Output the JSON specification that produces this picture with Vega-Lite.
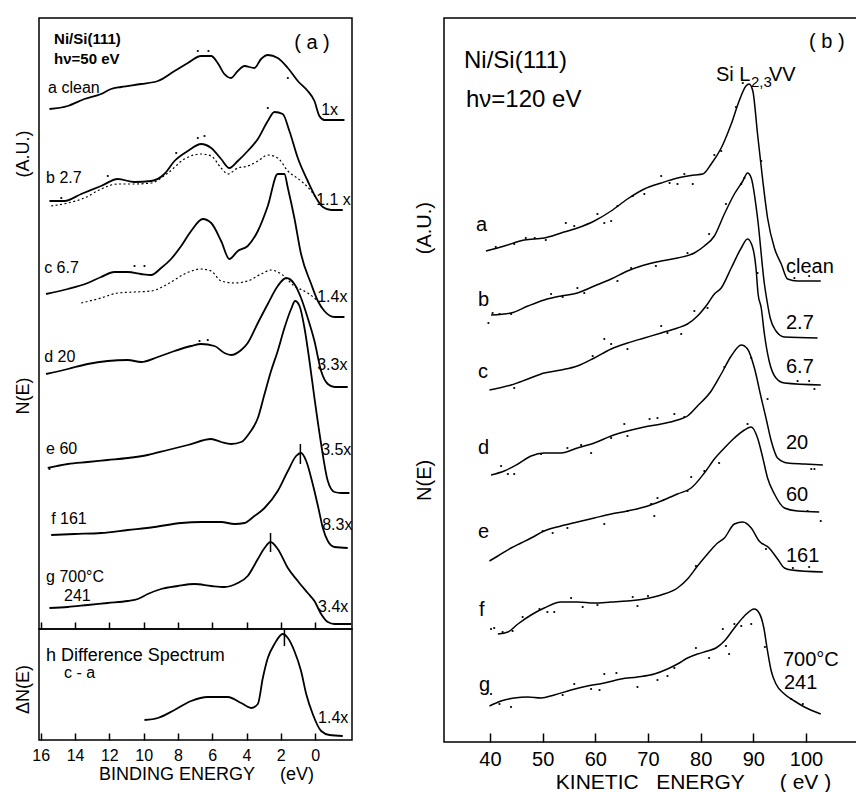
{
  "$schema": "https://vega.github.io/schema/vega-lite/v6.json",
  "background": "white",
  "padding": {"left": 13, "top": 17, "right": 0, "bottom": 0},
  "bounds": "flush",
  "spacing": 405,
  "config": {
    "view": {"stroke": "black", "strokeWidth": 1.5},
    "font": "Liberation Sans",
    "axis": {"grid": false, "domain": false, "labelColor": "black", "titleColor": "black", "tickColor": "black", "labelFont": "Liberation Sans", "titleFont": "Liberation Sans", "titleFontWeight": "normal"}
  },
  "datasets": {
    "A": [
      {"c":"a","x":15.49,"y":520},{"c":"a","x":14.42,"y":523},{"c":"a","x":13.45,"y":530},{"c":"a","x":12.48,"y":535},{"c":"a","x":11.9,"y":540},{"c":"a","x":11.31,"y":542},{"c":"a","x":10.15,"y":545},{"c":"a","x":9.17,"y":548},{"c":"a","x":8.2,"y":558},{"c":"a","x":7.42,"y":566},{"c":"a","x":6.65,"y":573},{"c":"a","x":6.06,"y":573},{"c":"a","x":5.68,"y":566},{"c":"a","x":5.29,"y":555},{"c":"a","x":4.9,"y":551},{"c":"a","x":4.51,"y":558},{"c":"a","x":4.12,"y":563},{"c":"a","x":3.54,"y":561},{"c":"a","x":3.15,"y":570},{"c":"a","x":2.76,"y":574},{"c":"a","x":2.18,"y":571},{"c":"a","x":1.59,"y":561},{"c":"a","x":1.01,"y":548},{"c":"a","x":0.43,"y":538},{"c":"a","x":0.04,"y":528},{"c":"a","x":-0.25,"y":513},{"c":"a","x":-0.54,"y":509},{"c":"a","x":-1.71,"y":509},
      {"c":"b","x":15.49,"y":428},{"c":"b","x":14.62,"y":428},{"c":"b","x":13.64,"y":435},{"c":"b","x":12.48,"y":443},{"c":"b","x":11.51,"y":450},{"c":"b","x":10.53,"y":447},{"c":"b","x":9.56,"y":448},{"c":"b","x":8.79,"y":455},{"c":"b","x":8.2,"y":468},{"c":"b","x":7.42,"y":478},{"c":"b","x":6.65,"y":485},{"c":"b","x":6.06,"y":481},{"c":"b","x":5.48,"y":470},{"c":"b","x":5.0,"y":461},{"c":"b","x":4.51,"y":468},{"c":"b","x":3.93,"y":478},{"c":"b","x":3.34,"y":490},{"c":"b","x":2.76,"y":508},{"c":"b","x":2.37,"y":517},{"c":"b","x":1.89,"y":515},{"c":"b","x":1.5,"y":498},{"c":"b","x":1.01,"y":471},{"c":"b","x":0.43,"y":448},{"c":"b","x":-0.06,"y":431},{"c":"b","x":-0.45,"y":422},{"c":"b","x":-0.93,"y":419},{"c":"b","x":-1.61,"y":419},
      {"c":"c","x":15.69,"y":335},{"c":"c","x":14.42,"y":340},{"c":"c","x":13.26,"y":346},{"c":"c","x":12.48,"y":352},{"c":"c","x":11.7,"y":357},{"c":"c","x":10.92,"y":357},{"c":"c","x":10.15,"y":355},{"c":"c","x":9.56,"y":354},{"c":"c","x":8.98,"y":361},{"c":"c","x":8.4,"y":370},{"c":"c","x":7.81,"y":383},{"c":"c","x":7.23,"y":398},{"c":"c","x":6.55,"y":410},{"c":"c","x":6.06,"y":406},{"c":"c","x":5.48,"y":388},{"c":"c","x":5.0,"y":370},{"c":"c","x":4.51,"y":378},{"c":"c","x":3.93,"y":383},{"c":"c","x":3.34,"y":398},{"c":"c","x":2.76,"y":423},{"c":"c","x":2.18,"y":455},{"c":"c","x":1.79,"y":455},{"c":"c","x":1.59,"y":441},{"c":"c","x":1.21,"y":411},{"c":"c","x":0.82,"y":375},{"c":"c","x":0.23,"y":345},{"c":"c","x":-0.16,"y":328},{"c":"c","x":-0.54,"y":318},{"c":"c","x":-1.13,"y":312},{"c":"c","x":-1.71,"y":312},
      {"c":"d","x":15.69,"y":255},{"c":"d","x":14.42,"y":260},{"c":"d","x":13.26,"y":265},{"c":"d","x":12.09,"y":268},{"c":"d","x":10.92,"y":269},{"c":"d","x":10.15,"y":267},{"c":"d","x":9.17,"y":272},{"c":"d","x":8.2,"y":278},{"c":"d","x":7.23,"y":283},{"c":"d","x":6.65,"y":285},{"c":"d","x":5.87,"y":283},{"c":"d","x":5.29,"y":276},{"c":"d","x":4.9,"y":274},{"c":"d","x":4.31,"y":279},{"c":"d","x":3.93,"y":286},{"c":"d","x":3.34,"y":306},{"c":"d","x":2.76,"y":325},{"c":"d","x":2.18,"y":343},{"c":"d","x":1.69,"y":351},{"c":"d","x":1.21,"y":345},{"c":"d","x":0.82,"y":331},{"c":"d","x":0.43,"y":311},{"c":"d","x":0.04,"y":288},{"c":"d","x":-0.35,"y":258},{"c":"d","x":-0.74,"y":245},{"c":"d","x":-1.13,"y":242},{"c":"d","x":-1.9,"y":242},
      {"c":"e","x":15.59,"y":161},{"c":"e","x":14.42,"y":165},{"c":"e","x":13.26,"y":167},{"c":"e","x":12.09,"y":169},{"c":"e","x":10.92,"y":171},{"c":"e","x":9.76,"y":174},{"c":"e","x":8.59,"y":179},{"c":"e","x":7.42,"y":184},{"c":"e","x":6.06,"y":190},{"c":"e","x":5.48,"y":187},{"c":"e","x":4.9,"y":185},{"c":"e","x":4.31,"y":187},{"c":"e","x":3.83,"y":196},{"c":"e","x":3.34,"y":211},{"c":"e","x":2.95,"y":235},{"c":"e","x":2.57,"y":258},{"c":"e","x":2.18,"y":278},{"c":"e","x":1.79,"y":301},{"c":"e","x":1.4,"y":320},{"c":"e","x":1.17,"y":328},{"c":"e","x":0.91,"y":323},{"c":"e","x":0.62,"y":301},{"c":"e","x":0.33,"y":268},{"c":"e","x":0.04,"y":231},{"c":"e","x":-0.35,"y":185},{"c":"e","x":-0.74,"y":148},{"c":"e","x":-1.13,"y":137},{"c":"e","x":-1.52,"y":136},{"c":"e","x":-2.0,"y":136},
      {"c":"f","x":15.39,"y":94},{"c":"f","x":14.03,"y":95},{"c":"f","x":12.48,"y":96},{"c":"f","x":10.92,"y":99},{"c":"f","x":9.37,"y":102},{"c":"f","x":7.81,"y":106},{"c":"f","x":6.65,"y":107},{"c":"f","x":5.48,"y":107},{"c":"f","x":4.7,"y":105},{"c":"f","x":4.12,"y":106},{"c":"f","x":3.54,"y":113},{"c":"f","x":2.95,"y":121},{"c":"f","x":2.18,"y":138},{"c":"f","x":1.59,"y":158},{"c":"f","x":1.11,"y":173},{"c":"f","x":0.82,"y":176},{"c":"f","x":0.52,"y":168},{"c":"f","x":0.14,"y":145},{"c":"f","x":-0.19,"y":121},{"c":"f","x":-0.45,"y":101},{"c":"f","x":-0.74,"y":88},{"c":"f","x":-1.13,"y":82},{"c":"f","x":-1.9,"y":81},
      {"c":"g","x":15.49,"y":21},{"c":"g","x":14.42,"y":22},{"c":"g","x":13.26,"y":24},{"c":"g","x":12.09,"y":26},{"c":"g","x":10.92,"y":28},{"c":"g","x":10.34,"y":30},{"c":"g","x":9.76,"y":35},{"c":"g","x":8.98,"y":40},{"c":"g","x":8.01,"y":43},{"c":"g","x":7.04,"y":45},{"c":"g","x":6.06,"y":43},{"c":"g","x":5.29,"y":42},{"c":"g","x":4.51,"y":46},{"c":"g","x":3.93,"y":53},{"c":"g","x":3.34,"y":70},{"c":"g","x":2.95,"y":81},{"c":"g","x":2.6,"y":87},{"c":"g","x":2.18,"y":80},{"c":"g","x":1.59,"y":61},{"c":"g","x":1.01,"y":48},{"c":"g","x":0.43,"y":36},{"c":"g","x":0.04,"y":28},{"c":"g","x":-0.35,"y":15},{"c":"g","x":-0.74,"y":7},{"c":"g","x":-1.13,"y":5},{"c":"g","x":-2.1,"y":5}
    ],
    "Ad": [
      {"c":"b","x":15.39,"y":423},{"c":"b","x":14.42,"y":426},{"c":"b","x":13.45,"y":431},{"c":"b","x":12.48,"y":440},{"c":"b","x":11.51,"y":445},{"c":"b","x":10.53,"y":445},{"c":"b","x":9.56,"y":446},{"c":"b","x":8.59,"y":456},{"c":"b","x":7.62,"y":470},{"c":"b","x":6.65,"y":475},{"c":"b","x":6.06,"y":473},{"c":"b","x":5.48,"y":461},{"c":"b","x":5.09,"y":455},{"c":"b","x":4.51,"y":461},{"c":"b","x":3.93,"y":463},{"c":"b","x":3.34,"y":468},{"c":"b","x":2.76,"y":474},{"c":"b","x":2.18,"y":471},{"c":"b","x":1.59,"y":458},{"c":"b","x":0.82,"y":448},{"c":"b","x":0.23,"y":438},{"c":"b","x":-0.06,"y":431},
      {"c":"c","x":13.64,"y":326},{"c":"c","x":12.48,"y":331},{"c":"c","x":11.51,"y":336},{"c":"c","x":10.53,"y":337},{"c":"c","x":9.56,"y":338},{"c":"c","x":8.59,"y":345},{"c":"c","x":7.62,"y":355},{"c":"c","x":6.65,"y":360},{"c":"c","x":6.06,"y":358},{"c":"c","x":5.48,"y":348},{"c":"c","x":4.7,"y":346},{"c":"c","x":3.93,"y":348},{"c":"c","x":3.15,"y":355},{"c":"c","x":2.57,"y":359},{"c":"c","x":1.98,"y":355},{"c":"c","x":1.21,"y":343},{"c":"c","x":0.43,"y":336},{"c":"c","x":-0.16,"y":328}
    ],
    "Adots": [
      {"x":6.84,"y":578},{"x":6.22,"y":578},{"x":1.59,"y":551},{"x":2.76,"y":521},{"x":6.84,"y":491},{"x":6.45,"y":493},{"x":8.1,"y":476},{"x":14.8,"y":431},{"x":12.09,"y":453},{"x":10.53,"y":363},{"x":9.95,"y":363},{"x":6.74,"y":288},{"x":6.26,"y":289},{"x":15.49,"y":160}
    ],
    "Amk": [{"x":0.86,"y":165,"y2":185},{"x":2.6,"y":77,"y2":96}],
    "Alab": [
      {"x":15.57,"y":536,"t":"a clean"},{"x":-0.35,"y":514,"t":"1x"},
      {"x":15.69,"y":446,"t":"b 2.7"},{"x":-0.06,"y":424,"t":"1.1 x"},
      {"x":15.8,"y":356,"t":"c 6.7"},{"x":-0.12,"y":327,"t":"1.4x"},
      {"x":15.8,"y":267,"t":"d 20"},{"x":-0.12,"y":259,"t":"3.3x"},
      {"x":15.69,"y":175,"t":"e 60"},{"x":-0.35,"y":174,"t":"3.5x"},
      {"x":15.39,"y":105,"t":"f 161"},{"x":-0.41,"y":99,"t":"8.3x"},
      {"x":15.69,"y":47,"t":"g 700°C"},{"x":14.64,"y":28,"t":"241"},{"x":-0.17,"y":17,"t":"3.4x"}
    ],
    "Ahead": [{"x":15.22,"y":585,"t":"Ni/Si(111)"},{"x":15.22,"y":565,"t":"hν=50 eV"}],
    "Atag": [{"x":1.22,"y":580,"t":"( a )"}],
    "H": [
      {"x":9.95,"y":20},{"x":9.17,"y":22},{"x":8.2,"y":30},{"x":7.23,"y":39},{"x":6.26,"y":43},{"x":5.09,"y":43},{"x":4.31,"y":37},{"x":3.73,"y":32},{"x":3.34,"y":36},{"x":3.05,"y":62},{"x":2.76,"y":82},{"x":2.37,"y":96},{"x":1.89,"y":106},{"x":1.59,"y":102},{"x":1.21,"y":89},{"x":0.82,"y":69},{"x":0.52,"y":46},{"x":0.14,"y":26},{"x":-0.35,"y":9},{"x":-0.84,"y":5},{"x":-1.61,"y":4}
    ],
    "Hmk": [{"x":1.79,"y":94,"y2":111}],
    "Hbig": [{"x":15.69,"y":79,"t":"h Difference Spectrum"}],
    "Hlab": [{"x":14.64,"y":62,"t":"c - a"},{"x":-0.17,"y":17,"t":"1.4x"}],
    "B": [
      {"c":"a","x":39.24,"y":491},{"c":"a","x":42.72,"y":496},{"c":"a","x":46.52,"y":502},{"c":"a","x":50.3,"y":504},{"c":"a","x":53.5,"y":509},{"c":"a","x":56.6,"y":514},{"c":"a","x":59.8,"y":521},{"c":"a","x":63,"y":531},{"c":"a","x":66.1,"y":543},{"c":"a","x":69.3,"y":553},{"c":"a","x":72.5,"y":559},{"c":"a","x":75.6,"y":564},{"c":"a","x":78.8,"y":567},{"c":"a","x":80.4,"y":568},{"c":"a","x":82,"y":578},{"c":"a","x":83.9,"y":594},{"c":"a","x":85.8,"y":618},{"c":"a","x":87.3,"y":641},{"c":"a","x":88.6,"y":656},{"c":"a","x":89.2,"y":658},{"c":"a","x":89.9,"y":651},{"c":"a","x":90.8,"y":608},{"c":"a","x":91.8,"y":561},{"c":"a","x":92.7,"y":524},{"c":"a","x":94,"y":494},{"c":"a","x":95.3,"y":478},{"c":"a","x":96.5,"y":463},{"c":"a","x":98.4,"y":461},{"c":"a","x":102.8,"y":461},
      {"c":"b","x":40.2,"y":427},{"c":"b","x":44,"y":429},{"c":"b","x":47.2,"y":436},{"c":"b","x":50.3,"y":442},{"c":"b","x":53.5,"y":446},{"c":"b","x":56.6,"y":449},{"c":"b","x":59.8,"y":456},{"c":"b","x":63,"y":463},{"c":"b","x":66.1,"y":471},{"c":"b","x":69.3,"y":477},{"c":"b","x":72.5,"y":481},{"c":"b","x":75.6,"y":484},{"c":"b","x":78.8,"y":489},{"c":"b","x":80.7,"y":496},{"c":"b","x":82.6,"y":506},{"c":"b","x":84.5,"y":528},{"c":"b","x":86.4,"y":548},{"c":"b","x":88,"y":561},{"c":"b","x":88.9,"y":569},{"c":"b","x":89.6,"y":564},{"c":"b","x":90.8,"y":524},{"c":"b","x":92.1,"y":458},{"c":"b","x":92.6,"y":441},{"c":"b","x":93.2,"y":424},{"c":"b","x":94.3,"y":411},{"c":"b","x":95.9,"y":405},{"c":"b","x":102.2,"y":404},
      {"c":"c","x":39.9,"y":352},{"c":"c","x":44,"y":357},{"c":"c","x":47.2,"y":363},{"c":"c","x":50.3,"y":369},{"c":"c","x":53.5,"y":372},{"c":"c","x":56.6,"y":376},{"c":"c","x":59.8,"y":384},{"c":"c","x":63,"y":393},{"c":"c","x":66.1,"y":399},{"c":"c","x":69.3,"y":404},{"c":"c","x":72.5,"y":409},{"c":"c","x":75.6,"y":414},{"c":"c","x":77.5,"y":418},{"c":"c","x":79.4,"y":426},{"c":"c","x":81.3,"y":438},{"c":"c","x":82.6,"y":448},{"c":"c","x":83.9,"y":454},{"c":"c","x":85.8,"y":474},{"c":"c","x":87.7,"y":494},{"c":"c","x":88.9,"y":503},{"c":"c","x":89.9,"y":494},{"c":"c","x":90.5,"y":474},{"c":"c","x":90.9,"y":448},{"c":"c","x":91.5,"y":434},{"c":"c","x":92.1,"y":408},{"c":"c","x":93,"y":381},{"c":"c","x":94.3,"y":364},{"c":"c","x":95.9,"y":359},{"c":"c","x":102.8,"y":357},
      {"c":"d","x":40.2,"y":267},{"c":"d","x":42.7,"y":271},{"c":"d","x":45.3,"y":278},{"c":"d","x":47.8,"y":286},{"c":"d","x":50.3,"y":289},{"c":"d","x":53.5,"y":289},{"c":"d","x":56.6,"y":294},{"c":"d","x":59.8,"y":299},{"c":"d","x":63,"y":306},{"c":"d","x":66.1,"y":311},{"c":"d","x":69.3,"y":315},{"c":"d","x":72.5,"y":318},{"c":"d","x":75.6,"y":322},{"c":"d","x":77.5,"y":326},{"c":"d","x":79.4,"y":336},{"c":"d","x":82,"y":351},{"c":"d","x":83.9,"y":368},{"c":"d","x":85.8,"y":386},{"c":"d","x":87.7,"y":397},{"c":"d","x":88.9,"y":393},{"c":"d","x":90.2,"y":374},{"c":"d","x":91.5,"y":344},{"c":"d","x":92.4,"y":324},{"c":"d","x":93.4,"y":301},{"c":"d","x":94.6,"y":284},{"c":"d","x":96.5,"y":279},{"c":"d","x":99.7,"y":278},{"c":"d","x":103.2,"y":277},
      {"c":"e","x":39.9,"y":181},{"c":"e","x":41.5,"y":186},{"c":"e","x":44,"y":194},{"c":"e","x":45.9,"y":199},{"c":"e","x":47.8,"y":204},{"c":"e","x":50.3,"y":211},{"c":"e","x":53.5,"y":216},{"c":"e","x":56.6,"y":220},{"c":"e","x":59.8,"y":224},{"c":"e","x":63,"y":228},{"c":"e","x":66.1,"y":231},{"c":"e","x":69.3,"y":235},{"c":"e","x":72.5,"y":241},{"c":"e","x":75.6,"y":248},{"c":"e","x":78.2,"y":254},{"c":"e","x":80.7,"y":269},{"c":"e","x":82.6,"y":283},{"c":"e","x":84.5,"y":294},{"c":"e","x":86.4,"y":304},{"c":"e","x":88.3,"y":312},{"c":"e","x":89.6,"y":315},{"c":"e","x":90.8,"y":304},{"c":"e","x":91.8,"y":284},{"c":"e","x":92.7,"y":264},{"c":"e","x":94,"y":248},{"c":"e","x":95.9,"y":234},{"c":"e","x":98.4,"y":231},{"c":"e","x":102.5,"y":230},
      {"c":"f","x":41.5,"y":108},{"c":"f","x":43.4,"y":110},{"c":"f","x":45.3,"y":118},{"c":"f","x":47.8,"y":127},{"c":"f","x":50.3,"y":134},{"c":"f","x":53.5,"y":140},{"c":"f","x":56.6,"y":140},{"c":"f","x":59.8,"y":139},{"c":"f","x":63,"y":140},{"c":"f","x":66.1,"y":141},{"c":"f","x":69.3,"y":143},{"c":"f","x":72.5,"y":147},{"c":"f","x":75.6,"y":154},{"c":"f","x":77.5,"y":163},{"c":"f","x":79.4,"y":176},{"c":"f","x":81.3,"y":188},{"c":"f","x":83.2,"y":199},{"c":"f","x":84.5,"y":204},{"c":"f","x":86.4,"y":218},{"c":"f","x":88,"y":220},{"c":"f","x":89.6,"y":214},{"c":"f","x":91.1,"y":201},{"c":"f","x":93,"y":194},{"c":"f","x":94.6,"y":183},{"c":"f","x":95.9,"y":174},{"c":"f","x":97.2,"y":172},{"c":"f","x":103.2,"y":170},
      {"c":"g","x":39.9,"y":36},{"c":"g","x":42.1,"y":41},{"c":"g","x":44.6,"y":44},{"c":"g","x":47.2,"y":45},{"c":"g","x":49.7,"y":44},{"c":"g","x":52.2,"y":47},{"c":"g","x":55.4,"y":52},{"c":"g","x":58.5,"y":56},{"c":"g","x":61.7,"y":59},{"c":"g","x":64.9,"y":63},{"c":"g","x":68,"y":65},{"c":"g","x":71.2,"y":68},{"c":"g","x":73.7,"y":73},{"c":"g","x":75.6,"y":78},{"c":"g","x":77.5,"y":84},{"c":"g","x":79.4,"y":88},{"c":"g","x":81.3,"y":91},{"c":"g","x":82.9,"y":94},{"c":"g","x":84.5,"y":101},{"c":"g","x":86.4,"y":114},{"c":"g","x":88.3,"y":126},{"c":"g","x":90.2,"y":133},{"c":"g","x":91.1,"y":129},{"c":"g","x":92,"y":114},{"c":"g","x":92.6,"y":94},{"c":"g","x":93.4,"y":71},{"c":"g","x":94.3,"y":58},{"c":"g","x":95.9,"y":48},{"c":"g","x":97.8,"y":41},{"c":"g","x":99.7,"y":35},{"c":"g","x":102.8,"y":28}
    ],
    "Bdots": [
      {"x":41.1,"y":495},{"x":44.6,"y":498},{"x":46.8,"y":504},{"x":48.5,"y":504},{"x":50.6,"y":502},{"x":54.4,"y":519},{"x":56,"y":516},{"x":60.4,"y":528},{"x":61.7,"y":519},{"x":63,"y":521},{"x":64.2,"y":536},{"x":67.1,"y":546},{"x":69.3,"y":548},{"x":72.5,"y":566},{"x":74.1,"y":559},{"x":75.6,"y":558},{"x":76.9,"y":568},{"x":78.5,"y":558},{"x":82.6,"y":587},{"x":83.9,"y":591},{"x":86.7,"y":635},{"x":88,"y":659},{"x":91.5,"y":581},{"x":97.8,"y":464},{"x":100.6,"y":466},
      {"x":51.6,"y":448},{"x":53.8,"y":445},{"x":56.6,"y":454},{"x":57.9,"y":449},{"x":64.2,"y":461},{"x":66.8,"y":474},{"x":71.5,"y":476},{"x":77.5,"y":489},{"x":81.6,"y":508},{"x":84.8,"y":538},{"x":87.7,"y":558},{"x":88.3,"y":564},{"x":90.8,"y":469},{"x":40.5,"y":429},{"x":39.7,"y":419},{"x":41.8,"y":428},{"x":44,"y":428},
      {"x":44.6,"y":354},{"x":63,"y":398},{"x":66.1,"y":393},{"x":72.5,"y":416},{"x":73.7,"y":409},{"x":76.3,"y":408},{"x":78.8,"y":431},{"x":81.3,"y":434},{"x":98.4,"y":361},{"x":100.6,"y":361},{"x":101.6,"y":353},{"x":61.7,"y":403},{"x":59.5,"y":386},
      {"x":42.1,"y":276},{"x":43.4,"y":268},{"x":44.6,"y":268},{"x":49.7,"y":288},{"x":54.7,"y":294},{"x":57.3,"y":297},{"x":59.2,"y":289},{"x":63,"y":304},{"x":65.5,"y":318},{"x":66.1,"y":306},{"x":70.3,"y":323},{"x":71.8,"y":324},{"x":75,"y":328},{"x":76.9,"y":325},{"x":84.5,"y":375},{"x":89.6,"y":384},{"x":92.7,"y":343},{"x":101,"y":273},{"x":101.6,"y":273},
      {"x":50,"y":211},{"x":51.9,"y":209},{"x":54.7,"y":214},{"x":61.7,"y":218},{"x":66.1,"y":231},{"x":70.6,"y":238},{"x":71.2,"y":226},{"x":71.8,"y":244},{"x":77.5,"y":251},{"x":78.2,"y":265},{"x":80.7,"y":271},{"x":83.5,"y":279},{"x":88.9,"y":318},{"x":102.8,"y":221},{"x":100.3,"y":231},
      {"x":40.2,"y":113},{"x":40.8,"y":114},{"x":42.4,"y":110},{"x":44.3,"y":111},{"x":46.2,"y":125},{"x":49.4,"y":133},{"x":50.9,"y":130},{"x":52.2,"y":130},{"x":55.4,"y":144},{"x":57.6,"y":135},{"x":60.4,"y":137},{"x":67.1,"y":145},{"x":68,"y":136},{"x":70,"y":146},{"x":79.1,"y":176},{"x":92.4,"y":193},{"x":97.5,"y":174},{"x":100.6,"y":175},
      {"x":40.2,"y":48},{"x":41.8,"y":38},{"x":44,"y":35},{"x":53.8,"y":47},{"x":56,"y":58},{"x":59.2,"y":53},{"x":60.8,"y":52},{"x":61.7,"y":68},{"x":64,"y":69},{"x":68,"y":55},{"x":71.8,"y":62},{"x":73.7,"y":66},{"x":75,"y":74},{"x":79.1,"y":94},{"x":81.6,"y":84},{"x":84.2,"y":113},{"x":84.8,"y":96},{"x":85.4,"y":88},{"x":86.4,"y":118},{"x":87.7,"y":116},{"x":89.6,"y":118},{"x":92.2,"y":95},{"x":97.2,"y":43},{"x":99.4,"y":38}
    ],
    "Blab": [
      {"x":37.34,"y":511,"t":"a"},{"x":37.72,"y":436,"t":"b"},{"x":37.72,"y":364,"t":"c"},{"x":37.72,"y":288,"t":"d"},{"x":37.72,"y":204,"t":"e"},{"x":37.9,"y":126,"t":"f"},{"x":37.9,"y":51,"t":"g"},
      {"x":96.2,"y":469,"t":"clean"},{"x":96.2,"y":413,"t":"2.7"},{"x":96.2,"y":369,"t":"6.7"},{"x":96.2,"y":293,"t":"20"},{"x":96.2,"y":241,"t":"60"},{"x":96.2,"y":180,"t":"161"},{"x":95.63,"y":76,"t":"700°C"},{"x":95.82,"y":53,"t":"241"}
    ],
    "Bhead": [{"x":35.06,"y":674,"t":"Ni/Si(111)"},{"x":35.44,"y":635,"t":"hν=120 eV"}],
    "Bmid": [{"x":82.91,"y":661,"t":"Si L"},{"x":92.97,"y":661,"t":"VV"},{"x":100.57,"y":694,"t":"( b )"}],
    "Bsub": [{"x":89.56,"y":655,"t":"2,3"}]
  },
  "hconcat": [
    {
      "bounds": "flush",
      "spacing": 0,
      "vconcat": [
        {
          "width": 313,
          "height": 611,
          "encoding": {
            "x": {"field": "x", "type": "quantitative", "scale": {"domain": [16.1, -2.15], "nice": false, "zero": false},
                  "axis": {"values": [16,14,12,10,8,6,4,2,0], "tickSize": -7, "tickWidth": 1.5, "labels": false, "title": null}},
            "y": {"field": "y", "type": "quantitative", "scale": {"domain": [0, 611], "nice": false, "zero": false},
                  "axis": {"ticks": false, "labels": false, "title": "N(E)\u00a0\u00a0\u00a0\u00a0\u00a0\u00a0\u00a0\u00a0\u00a0\u00a0\u00a0\u00a0\u00a0\u00a0\u00a0\u00a0\u00a0\u00a0\u00a0\u00a0\u00a0\u00a0\u00a0\u00a0\u00a0\u00a0\u00a0\u00a0\u00a0\u00a0\u00a0\u00a0\u00a0\u00a0\u00a0\u00a0\u00a0\u00a0\u00a0\u00a0(A.U.)", "titleFontSize": 18, "titleX": -16, "titleY": 254, "titleAlign": "center", "titleBaseline": "middle"}}
          },
          "layer": [
            {"data": {"name": "A"}, "mark": {"type": "line", "interpolate": "monotone", "color": "black", "strokeWidth": 1.8}, "encoding": {"detail": {"field": "c"}}},
            {"data": {"name": "Ad"}, "mark": {"type": "line", "interpolate": "monotone", "color": "black", "strokeWidth": 1.2, "strokeDash": [2, 2.5]}, "encoding": {"detail": {"field": "c"}}},
            {"data": {"name": "Adots"}, "mark": {"type": "circle", "color": "black", "size": 5, "opacity": 1}},
            {"data": {"name": "Amk"}, "mark": {"type": "rule", "color": "black", "strokeWidth": 1.5}, "encoding": {"y2": {"field": "y2"}}},
            {"data": {"name": "Alab"}, "mark": {"type": "text", "align": "left", "baseline": "alphabetic", "fontSize": 16, "color": "black"}, "encoding": {"text": {"field": "t"}}},
            {"data": {"name": "Ahead"}, "mark": {"type": "text", "align": "left", "baseline": "alphabetic", "fontSize": 15, "fontWeight": "bold", "color": "black"}, "encoding": {"text": {"field": "t"}}},
            {"data": {"name": "Atag"}, "mark": {"type": "text", "align": "left", "baseline": "alphabetic", "fontSize": 20, "color": "black"}, "encoding": {"text": {"field": "t"}}}
          ]
        },
        {
          "width": 313,
          "height": 111,
          "encoding": {
            "x": {"field": "x", "type": "quantitative", "scale": {"domain": [16.1, -2.15], "nice": false, "zero": false},
                  "axis": {"values": [16,14,12,10,8,6,4,2,0], "tickSize": -7, "tickWidth": 1.5, "labelFontSize": 16, "labelPadding": 14, "labelBaseline": "top",
                           "title": "BINDING ENERGY\u00a0\u00a0\u00a0\u00a0\u00a0(eV)", "titleFontSize": 18, "titleX": 167, "titleY": 39, "titleBaseline": "alphabetic", "titleAlign": "center"}},
            "y": {"field": "y", "type": "quantitative", "scale": {"domain": [0, 111], "nice": false, "zero": false},
                  "axis": {"ticks": false, "labels": false, "title": "ΔN(E)", "titleFontSize": 18, "titleX": -16, "titleY": 60, "titleAlign": "center", "titleBaseline": "middle"}}
          },
          "layer": [
            {"data": {"name": "H"}, "mark": {"type": "line", "interpolate": "monotone", "color": "black", "strokeWidth": 1.8}},
            {"data": {"name": "Hmk"}, "mark": {"type": "rule", "color": "black", "strokeWidth": 1.5}, "encoding": {"y2": {"field": "y2"}}},
            {"data": {"name": "Hbig"}, "mark": {"type": "text", "align": "left", "baseline": "alphabetic", "fontSize": 18, "color": "black"}, "encoding": {"text": {"field": "t"}}},
            {"data": {"name": "Hlab"}, "mark": {"type": "text", "align": "left", "baseline": "alphabetic", "fontSize": 16, "color": "black"}, "encoding": {"text": {"field": "t"}}}
          ]
        }
      ]
    },
    {
      "width": 413,
      "height": 724,
      "encoding": {
        "x": {"field": "x", "type": "quantitative", "scale": {"domain": [31.27, 109.68], "nice": false, "zero": false},
              "axis": {"values": [40,50,60,70,80,90,100], "tickSize": -9, "tickWidth": 1.5, "labelFontSize": 20, "labelPadding": 16, "labelBaseline": "top",
                       "title": "KINETIC\u00a0\u00a0\u00a0ENERGY\u00a0\u00a0\u00a0\u00a0\u00a0\u00a0( eV )", "titleFontSize": 21, "titleX": 249, "titleY": 46, "titleBaseline": "alphabetic", "titleAlign": "center"}},
        "y": {"field": "y", "type": "quantitative", "scale": {"domain": [0, 724], "nice": false, "zero": false},
              "axis": {"ticks": false, "labels": false, "title": "N(E)\u00a0\u00a0\u00a0\u00a0\u00a0\u00a0\u00a0\u00a0\u00a0\u00a0\u00a0\u00a0\u00a0\u00a0\u00a0\u00a0\u00a0\u00a0\u00a0\u00a0\u00a0\u00a0\u00a0\u00a0\u00a0\u00a0\u00a0\u00a0\u00a0\u00a0\u00a0\u00a0\u00a0\u00a0\u00a0\u00a0\u00a0(A.U.)", "titleFontSize": 20, "titleX": -20, "titleY": 333, "titleAlign": "center", "titleBaseline": "middle"}}
      },
      "layer": [
        {"data": {"name": "B"}, "mark": {"type": "line", "interpolate": "monotone", "color": "black", "strokeWidth": 1.5}, "encoding": {"detail": {"field": "c"}}},
        {"data": {"name": "Bdots"}, "mark": {"type": "circle", "color": "black", "size": 5, "opacity": 1}},
        {"data": {"name": "Blab"}, "mark": {"type": "text", "align": "left", "baseline": "alphabetic", "fontSize": 20, "color": "black"}, "encoding": {"text": {"field": "t"}}},
        {"data": {"name": "Bhead"}, "mark": {"type": "text", "align": "left", "baseline": "alphabetic", "fontSize": 24, "color": "black"}, "encoding": {"text": {"field": "t"}}},
        {"data": {"name": "Bmid"}, "mark": {"type": "text", "align": "left", "baseline": "alphabetic", "fontSize": 20, "color": "black"}, "encoding": {"text": {"field": "t"}}},
        {"data": {"name": "Bsub"}, "mark": {"type": "text", "align": "left", "baseline": "alphabetic", "fontSize": 15, "color": "black"}, "encoding": {"text": {"field": "t"}}}
      ]
    }
  ]
}
